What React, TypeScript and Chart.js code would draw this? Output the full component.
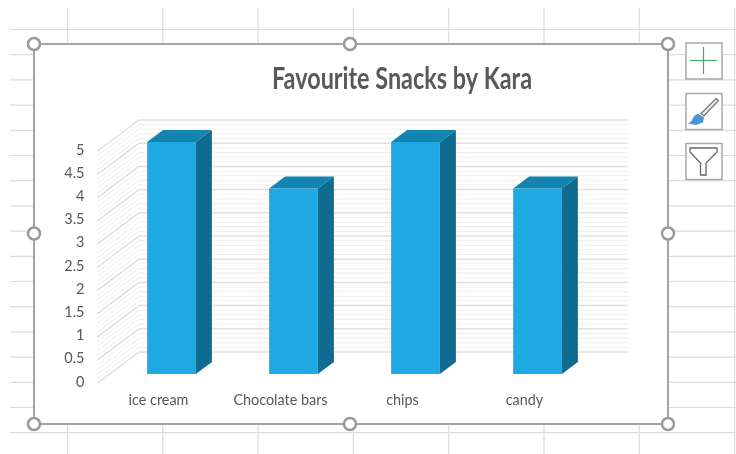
import React, { useEffect, useRef } from "react";
import { Chart, registerables } from "chart.js";

Chart.register(...registerables);

const categories = ["ice cream", "Chocolate bars", "chips", "candy"];
const values = [5, 4, 5, 4];
const chartTitle = "Favourite Snacks by Kara";
const wallSteps = [...Array(51).keys()];

const GRID = "#dcdcdc";
const FRAME = "#a3a3a3";
const FRONT = "#1EA9E3";
const TOP = "#1383AF";
const SIDE = "#0F6C91";
const DEPTH_X = 16;
const DEPTH_Y = 12;
const BAR_SHIFT = -8;
const TITLE_X = 402;
const TITLE_SQUEEZE = 0.78;

const line = (c: CanvasRenderingContext2D, x1: number, y1: number, x2: number, y2: number) => {
  c.beginPath();
  c.moveTo(x1, y1);
  c.lineTo(x2, y2);
  c.stroke();
};

const poly = (c: CanvasRenderingContext2D, pts: number[][], fill?: string) => {
  c.beginPath();
  pts.forEach(([x, y], i) => (i ? c.lineTo(x, y) : c.moveTo(x, y)));
  c.closePath();
  if (fill) {
    c.fillStyle = fill;
    c.fill();
  }
};

const sheetPlugin = {
  id: "sheet",
  beforeDraw(chart: any) {
    const c: CanvasRenderingContext2D = chart.ctx;
    c.save();
    c.fillStyle = "#fff";
    c.fillRect(0, 0, 736, 454);
    // spreadsheet cells
    c.strokeStyle = GRID;
    c.lineWidth = 1.2;
    for (let y = 29.5; y < 440; y += 25.2) line(c, 10, y, 736, y);
    for (let x = 67.5; x < 736; x += 95.3) line(c, x, 8, x, 454);
    // chart frame
    c.fillStyle = "#fff";
    c.fillRect(34, 44, 634, 380);
    c.strokeStyle = FRAME;
    c.lineWidth = 2;
    c.strokeRect(34, 44, 634, 380);
    // handles
    for (const [x, y] of [[34, 44], [350, 44], [668, 44], [34, 233.5], [668, 233.5], [34, 424], [350, 424], [668, 424]]) {
      c.beginPath();
      c.arc(x, y, 6, 0, Math.PI * 2);
      c.fillStyle = "#fff";
      c.fill();
      c.lineWidth = 2.5;
      c.strokeStyle = "#9a9a9a";
      c.stroke();
    }
    // side buttons
    for (const y of [43, 93.5, 143.5]) {
      c.fillStyle = "#fff";
      c.fillRect(686, y, 36, 36);
      c.strokeStyle = "#a8a8a8";
      c.lineWidth = 1.5;
      c.strokeRect(686, y, 36, 36);
    }
    c.strokeStyle = "#3fae5f";
    c.lineWidth = 1.2;
    line(c, 690, 60.5, 717, 60.5);
    line(c, 703.5, 47, 703.5, 74);
    // brush
    poly(c, [[716, 98.5], [718.5, 100.5], [704, 116], [701, 113.5]], "#e4e4e4");
    c.strokeStyle = "#777";
    c.lineWidth = 1.2;
    c.stroke();
    poly(c, [[698, 113.5], [704, 117.5], [703, 122.5], [696, 125], [688, 123.5], [691.5, 121], [694, 116]], "#4a96d6");
    // funnel
    poly(c, [[690, 148], [717, 148], [717, 152], [706, 163], [706, 175], [700.5, 175], [700.5, 163], [690, 152]], "#fff");
    c.strokeStyle = "#666";
    c.lineWidth = 1.3;
    c.stroke();
    c.restore();
  },
  beforeDatasetsDraw(chart: any) {
    const c: CanvasRenderingContext2D = chart.ctx;
    const yScale = chart.scales.y;
    c.save();
    // walls of the 3D box
    for (const step of wallSteps) {
      const y = yScale.getPixelForValue(step / 10);
      const major = step % 5 === 0;
      c.strokeStyle = major ? "#e0e0e0" : "#eeeeee";
      c.lineWidth = major ? 1.5 : 1;
      line(c, 97, y + 1.5, 139, y - 30);
      line(c, 139, y - 30, 628, y - 30);
    }
    c.translate(0, BAR_SHIFT);
    // top and side faces of each bar
    for (const bar of chart.getDatasetMeta(0).data) {
      const l = bar.x - bar.width / 2;
      const r = bar.x + bar.width / 2;
      poly(c, [[l, bar.y], [l + DEPTH_X, bar.y - DEPTH_Y], [r + DEPTH_X, bar.y - DEPTH_Y], [r, bar.y]], TOP);
      poly(c, [[r, bar.y], [r + DEPTH_X, bar.y - DEPTH_Y], [r + DEPTH_X, bar.base - DEPTH_Y], [r, bar.base]], SIDE);
    }
  },
  afterDatasetsDraw(chart: any) {
    chart.ctx.restore();
  },
  afterLayout(chart: any) {
    // the title sits to the right of the plot centre, in a condensed face
    const t = chart.titleBlock;
    if (!t) return;
    const shift = TITLE_X - (t.left + t.right) / 2;
    t.left += shift;
    t.right += shift;
    const draw = t.constructor.prototype.draw;
    t.draw = function () {
      const c: CanvasRenderingContext2D = chart.ctx;
      c.save();
      c.translate(TITLE_X, 0);
      c.scale(TITLE_SQUEEZE, 1);
      c.translate(-TITLE_X, 0);
      draw.call(this);
      c.restore();
    };
  },
};

export default function App() {
  const ref = useRef<HTMLCanvasElement>(null);
  useEffect(() => {
    const chart = new Chart(ref.current!, {
      type: "bar",
      data: {
        labels: categories,
        datasets: [
          {
            label: "Series1",
            data: values,
            backgroundColor: FRONT,
            barPercentage: 0.4,
            categoryPercentage: 1,
          },
        ],
      },
      options: {
        responsive: false,
        animation: false,
        devicePixelRatio: 1,
        layout: { padding: { left: 0, right: 137.5, top: 0, bottom: 0 } },
        plugins: {
          legend: { display: false },
          tooltip: { enabled: false },
          title: {
            display: true,
            text: chartTitle,
            color: "#595959",
            font: { family: "Lato", size: 30, weight: "bold" },
            padding: { top: 61, bottom: 53 },
          },
        },
        scales: {
          x: {
            grid: { display: false },
            border: { display: false },
            afterFit: (s: any) => {
              s.height = 72;
            },
            ticks: {
              color: "#595959",
              font: { family: "Lato", size: 14.4 },
              autoSkip: false,
              maxRotation: 0,
              padding: 2,
              labelOffset: -13,
            },
          },
          y: {
            min: 0,
            max: 5,
            grid: { display: false },
            border: { display: false },
            afterFit: (s: any) => {
              s.width = 110.5;
            },
            ticks: {
              stepSize: 0.5,
              color: "#595959",
              font: { family: "Lato", size: 14.5 },
              padding: 18,
              callback: (v: any) => String(v),
            },
          },
        },
      },
      plugins: [sheetPlugin],
    } as any);
    return () => chart.destroy();
  }, []);
  return (
    <canvas
      ref={ref}
      width={736}
      height={454}
      style={{ position: "absolute", left: 0, top: 0, display: "block" }}
    />
  );
}
